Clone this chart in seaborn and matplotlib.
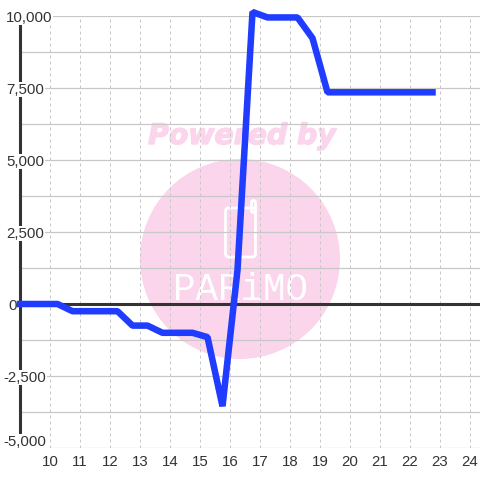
import matplotlib
matplotlib.use('Agg')
import matplotlib.pyplot as plt
from matplotlib.patches import Circle, FancyBboxPatch
import matplotlib.patheffects as pe
import pandas as pd
import seaborn as sns

hours = [9.0, 9.75, 10.25, 10.75, 11.25, 11.75, 12.25, 12.75, 13.25, 13.75, 14.25, 14.75, 15.25, 15.75,
         16.25, 16.75, 17.25, 17.75, 18.25, 18.75, 19.25, 19.75, 20.25, 20.75, 21.25, 21.75, 22.25, 22.75]
balance = [0, 0, 0, -250, -250, -250, -250, -750, -750, -1000, -1000, -1000, -1150, -3550,
           1180, 10140, 9950, 9950, 9950, 9230, 7350, 7350, 7350, 7350, 7350, 7350, 7350, 7350]
x_ticks = list(range(10, 25))
y_major = [-5000, -2500, 0, 2500, 5000, 7500, 10000]
y_minor = [-3750, -1250, 1250, 3750, 6250, 8750]
y_labels = ['-5,000', '-2,500', '0', '2,500', '5,000', '7,500', '10,000']
label_left = [3, 3, 8, 6, 6, 6, 6]

TEXT = '#333333'
GRID = '#c8c8c8'
PINK = '#fbd5ec'
BLUE = '#1f3cff'
font = 'Liberation Sans'

sns.set_theme(style='white')
plt.rcParams['font.family'] = font

fig = plt.figure(figsize=(4.8, 4.8), dpi=100)
ax = fig.add_axes([20/480, 32/480, 460/480, 432/480])
df = pd.DataFrame({'hour': hours, 'balance': balance})

# watermark, in pixels of the whole figure
bg = fig.add_axes([0, 0, 1, 1], zorder=-1)
bg.set_xlim(0, 480)
bg.set_ylim(480, 0)
bg.axis('off')
bg.add_patch(Circle((240, 259), 100, color=PINK, lw=0))
bg.text(242, 136, 'Powered by', color=PINK, fontsize=20.4, family='DejaVu Sans', weight='bold',
        style='italic', ha='center', va='center',
        path_effects=[pe.withStroke(linewidth=1, foreground=PINK)])
bg.add_patch(FancyBboxPatch((225.5, 208), 30, 49, boxstyle='round,pad=0,rounding_size=3',
                            fc='none', ec='white', lw=2))
bg.add_patch(FancyBboxPatch((251.5, 200.5), 4, 12, boxstyle='round,pad=0,rounding_size=2',
                            fc='none', ec='white', lw=2))
bg.text(240, 290, 'PARiMO', color='white', fontsize=27, family='Liberation Mono',
        ha='center', va='center')
ax.patch.set_alpha(0)

sns.lineplot(data=df, x='hour', y='balance', ax=ax, color=BLUE, linewidth=4.7, errorbar=None,
             solid_capstyle='projecting', solid_joinstyle='bevel', clip_on=False, zorder=5)

ax.set_xlim(9, 24 + 1/3)
ax.set_ylim(-5000, 10000)
ax.set_xlabel('')
ax.set_ylabel('')
ax.set_xticks(x_ticks)
ax.set_yticks(y_major)
ax.set_yticks(y_minor, minor=True)
ax.set_yticklabels([])
ax.tick_params(axis='both', which='both', length=0)
ax.tick_params(axis='x', labelsize=10.8, labelcolor=TEXT, pad=5)
ax.grid(True, axis='y', which='both', color=GRID, lw=0.9)
ax.grid(True, axis='x', color=GRID, lw=0.72, ls=(0, (3, 3)))
ax.set_axisbelow(True)
for s in ['top', 'right', 'bottom']:
    ax.spines[s].set_visible(False)
ax.spines['left'].set_color(TEXT)
ax.spines['left'].set_linewidth(2.2)
ax.spines['left'].set_zorder(3)
ax.spines['left'].set_bounds(-4600, 10000)
ax.axhline(0, color=TEXT, lw=2.2, zorder=4)

# y labels sit on white boxes that cut the axis line and the grid
for val, lab, left in zip(y_major, y_labels, label_left):
    # lowest label is pushed up so it stays inside the plot
    y_px = min(305.5 - val * 0.0288, 441.5)
    ax.text(left / 480, 1 - y_px / 480, lab, transform=fig.transFigure, color=TEXT, fontsize=10.8,
            ha='left', va='center', zorder=6 if val == 0 else 4,
            bbox=dict(fc='none' if val == 0 else 'white', ec='none', pad=0.5))

fig.savefig('out.png', dpi=100)
